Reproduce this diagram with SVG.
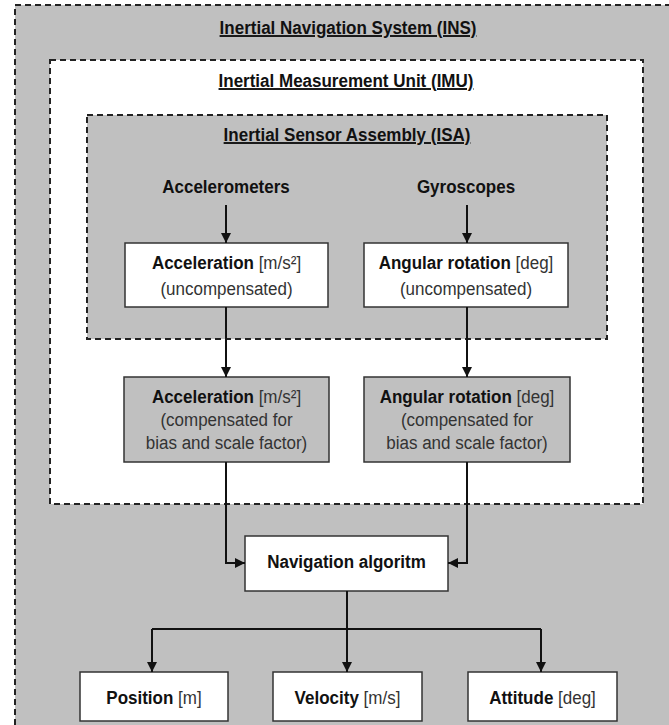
<svg xmlns="http://www.w3.org/2000/svg" width="669" height="725" viewBox="0 0 669 725">
<style>
.cont{stroke:#222;stroke-width:2;stroke-dasharray:6 4}
.box{stroke:#333;stroke-width:1.5}
.w{fill:#fff}
.g{fill:#c0c0c0}
text{font-family:"Liberation Sans",Arial,sans-serif;font-size:19px;text-anchor:middle;fill:#222}
.b{font-weight:bold;fill:#111}
.t{font-weight:bold;fill:#111;text-decoration:underline}
.u{font-weight:normal;fill:#333}
.c{stroke:#111;stroke-width:2;fill:none}
</style>
<defs>
<marker id="ah" viewBox="0 0 10 10" refX="10" refY="5" markerWidth="10" markerHeight="10" markerUnits="userSpaceOnUse" orient="auto">
<path d="M0,0 L10,5 L0,10 Z" fill="#111"/>
</marker>
</defs>
<rect width="669" height="725" fill="#fff"/>
<g id="ins">
<rect class="cont g" x="15" y="5" width="700" height="760"/>
<text class="t" transform="translate(348 34) scale(.895 1)">Inertial Navigation System (INS)</text>
</g>
<g id="imu">
<rect class="cont w" x="50" y="60" width="593" height="444"/>
<text class="t" transform="translate(346 87) scale(.895 1)">Inertial Measurement Unit (IMU)</text>
</g>
<g id="isa">
<rect class="cont g" x="87" y="115" width="520" height="224"/>
<text class="t" transform="translate(347 141) scale(.895 1)">Inertial Sensor Assembly (ISA)</text>
</g>
<g id="accelerometers"><text class="b" transform="translate(226 193) scale(.895 1)">Accelerometers</text></g>
<g id="gyroscopes"><text class="b" transform="translate(466 193) scale(.895 1)">Gyroscopes</text></g>
<g id="acc-unc">
<rect class="box w" x="125" y="243" width="203" height="64"/>
<text transform="translate(226.5 269) scale(.895 1)"><tspan class="b">Acceleration</tspan> <tspan class="u">[m/s²]</tspan></text>
<text class="u" transform="translate(226.5 295) scale(.895 1)">(uncompensated)</text>
</g>
<g id="ang-unc">
<rect class="box w" x="364" y="243" width="204" height="64"/>
<text transform="translate(466 269) scale(.895 1)"><tspan class="b">Angular rotation</tspan> <tspan class="u">[deg]</tspan></text>
<text class="u" transform="translate(466 295) scale(.895 1)">(uncompensated)</text>
</g>
<g id="acc-comp">
<rect class="box g" x="124" y="377" width="205" height="85"/>
<text transform="translate(226.5 403) scale(.895 1)"><tspan class="b">Acceleration</tspan> <tspan class="u">[m/s²]</tspan></text>
<text class="u" transform="translate(226.5 426) scale(.895 1)">(compensated for</text>
<text class="u" transform="translate(226.5 449) scale(.895 1)">bias and scale factor)</text>
</g>
<g id="ang-comp">
<rect class="box g" x="364" y="377" width="206" height="85"/>
<text transform="translate(467 403) scale(.895 1)"><tspan class="b">Angular rotation</tspan> <tspan class="u">[deg]</tspan></text>
<text class="u" transform="translate(467 426) scale(.895 1)">(compensated for</text>
<text class="u" transform="translate(467 449) scale(.895 1)">bias and scale factor)</text>
</g>
<g id="nav">
<rect class="box w" x="245" y="536" width="203" height="55"/>
<text class="b" transform="translate(346.5 568) scale(.895 1)">Navigation algoritm</text>
</g>
<g id="position">
<rect class="box w" x="80" y="672" width="148" height="49"/>
<text transform="translate(154 704) scale(.895 1)"><tspan class="b">Position</tspan> <tspan class="u">[m]</tspan></text>
</g>
<g id="velocity">
<rect class="box w" x="273" y="672" width="149" height="49"/>
<text transform="translate(347.5 704) scale(.895 1)"><tspan class="b">Velocity</tspan> <tspan class="u">[m/s]</tspan></text>
</g>
<g id="attitude">
<rect class="box w" x="468" y="672" width="149" height="49"/>
<text transform="translate(542.5 704) scale(.895 1)"><tspan class="b">Attitude</tspan> <tspan class="u">[deg]</tspan></text>
</g>
<g id="connectors">
<path class="c" d="M226,205 V243" marker-end="url(#ah)"/>
<path class="c" d="M467,205 V243" marker-end="url(#ah)"/>
<path class="c" d="M226,307 V377" marker-end="url(#ah)"/>
<path class="c" d="M467,307 V377" marker-end="url(#ah)"/>
<path class="c" d="M226,462 V563 H245" marker-end="url(#ah)"/>
<path class="c" d="M467,462 V563 H448" marker-end="url(#ah)"/>
<path class="c" d="M347,591 V629"/>
<path class="c" d="M152,629 H541"/>
<path class="c" d="M152,629 V672" marker-end="url(#ah)"/>
<path class="c" d="M347,629 V672" marker-end="url(#ah)"/>
<path class="c" d="M541,629 V672" marker-end="url(#ah)"/>
</g>
</svg>
